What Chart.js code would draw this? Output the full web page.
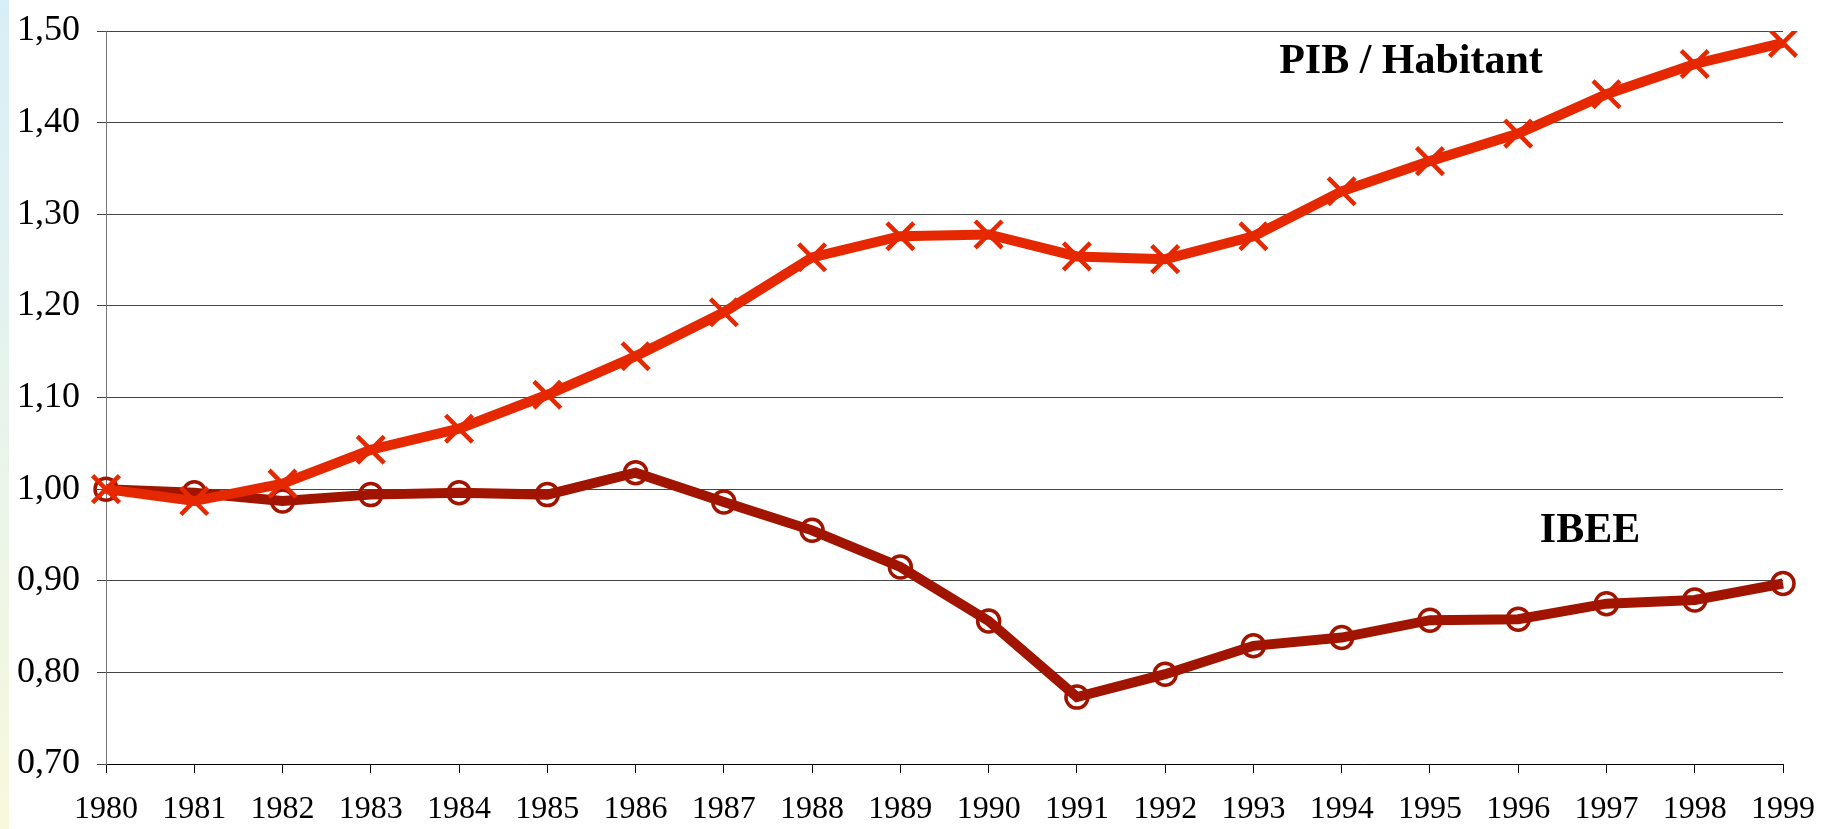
<!DOCTYPE html>
<html>
<head>
<meta charset="utf-8">
<script src="https://cdn.jsdelivr.net/npm/chart.js@4/dist/chart.umd.min.js"></script>
<style>
  html, body { margin: 0; padding: 0; background: #fff; }
  #wrap { position: relative; width: 1831px; height: 829px; }
  #strip { position: absolute; left: 0; top: 0; width: 9px; height: 829px;
           background: linear-gradient(to bottom, #d8eef8 0%, #e8f4ec 50%, #f8f8dc 100%); }
  canvas { position: absolute; left: 0; top: 0; }
</style>
</head>
<body>
<div id="wrap">
  <div id="strip"></div>
  <canvas id="chart" width="1831" height="829"></canvas>
</div>
<script>
// Années
const years = ['1980', '1981', '1982', '1983', '1984', '1985', '1986', '1987', '1988', '1989',
               '1990', '1991', '1992', '1993', '1994', '1995', '1996', '1997', '1998', '1999'];

// PIB par habitant (indice 1980 = 1)
const pibHabitant = [1.000, 0.987, 1.006, 1.043, 1.066, 1.103, 1.145, 1.193, 1.253, 1.276,
                     1.278, 1.254, 1.251, 1.276, 1.325, 1.358, 1.388, 1.431, 1.464, 1.487];

// IBEE (indice 1980 = 1)
const ibee = [1.000, 0.996, 0.987, 0.994, 0.996, 0.994, 1.018, 0.986, 0.955, 0.915,
              0.856, 0.773, 0.798, 0.829, 0.838, 0.857, 0.858, 0.875, 0.879, 0.897];

// Axe vertical
const yMin = 0.7;
const yMax = 1.5;
const yStep = 0.1;

// Étiquettes dans le graphique
const seriesLabels = [
    { text: 'PIB / Habitant', x: 1411, y: 73 },
    { text: 'IBEE', x: 1590, y: 542 }
];

const serif = '"Liberation Serif", "Times New Roman", serif';

const labelPlugin = {
    id: 'seriesLabels',
    afterDatasetsDraw(chart) {
        const ctx = chart.ctx;
        ctx.save();
        ctx.fillStyle = '#000';
        ctx.font = 'bold 42px ' + serif;
        ctx.textAlign = 'center';
        ctx.textBaseline = 'alphabetic';
        seriesLabels.forEach(l => ctx.fillText(l.text, l.x, l.y));
        ctx.restore();
    }
};

new Chart(document.getElementById('chart').getContext('2d'), {
    type: 'line',
    data: {
        labels: years,
        datasets: [
            {
                label: 'PIB / Habitant',
                data: pibHabitant,
                borderColor: '#e62800',
                borderWidth: 10,
                pointStyle: 'crossRot',
                pointRadius: 19,
                pointBorderWidth: 4.5,
                pointBorderColor: '#e62800',
                pointBackgroundColor: 'rgba(0,0,0,0)',
                tension: 0
            },
            {
                label: 'IBEE',
                data: ibee,
                borderColor: '#a01400',
                borderWidth: 10,
                pointStyle: 'circle',
                pointRadius: 11,
                pointBorderWidth: 3.5,
                pointBorderColor: '#a01400',
                pointBackgroundColor: 'rgba(0,0,0,0)',
                tension: 0
            }
        ]
    },
    options: {
        responsive: false,
        animation: false,
        devicePixelRatio: 1,
        layout: { padding: { top: 31, right: 48, left: 0, bottom: 0 } },
        plugins: {
            legend: { display: false },
            tooltip: { enabled: false }
        },
        scales: {
            x: {
                type: 'category',
                offset: false,
                grid: { drawOnChartArea: false, drawTicks: true, tickLength: 9, color: '#000', lineWidth: 1 },
                border: { color: '#000', width: 1 },
                ticks: {
                    color: '#000',
                    font: { family: serif, size: 32, lineHeight: 2.125 },
                    padding: 3,
                    maxRotation: 0,
                    autoSkip: false
                },
                afterFit: scale => { scale.height = 65; }
            },
            y: {
                min: yMin,
                max: yMax,
                grid: { color: '#444', lineWidth: 1, drawTicks: true, tickLength: 9 },
                border: { color: '#777', width: 1 },
                ticks: {
                    stepSize: yStep,
                    color: '#000',
                    font: { family: serif, size: 36, lineHeight: 0.7 },
                    padding: 17,
                    callback: v => v.toFixed(2).replace('.', ',')
                },
                afterFit: scale => { scale.width = 106; }
            }
        }
    },
    plugins: [labelPlugin]
});
</script>
</body>
</html>
